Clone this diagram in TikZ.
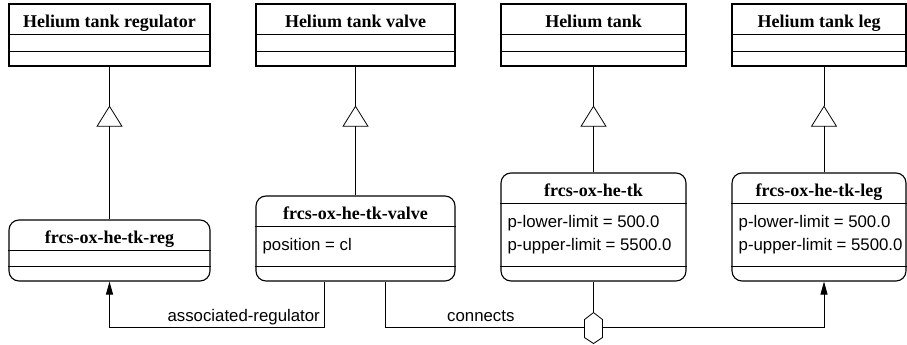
\documentclass[tikz,border=0pt]{standalone}
\usepackage{fontspec}
\setmainfont{Liberation Serif}
\setsansfont{Liberation Sans}
\usetikzlibrary{arrows.meta,positioning}

\tikzset{
  cls/.style={draw, line width=1.1pt, inner sep=0},
  inst/.style={cls, rounded corners=10pt},
  ttl/.style={anchor=base, inner sep=0, font=\fontsize{18}{20}\selectfont\bfseries},
  attr/.style={anchor=base west, inner sep=0, font=\sffamily\fontsize{16.8}{20}\selectfont},
  div/.style={line width=0.8pt},
  gen/.style={div, -{Triangle[open, length=21pt, width=26pt]}},
  assoc/.style={div, -{Triangle[length=13pt, width=7pt]}},
}

\begin{document}
\begin{tikzpicture}[x=1pt, y=-1pt]
\useasboundingbox (0,0) rectangle (907,345);

% classes
\node[cls, minimum width=201, minimum height=62] (htreg) at (109.5,35) {};
\node[ttl] (htreg-t) at ([yshift=-24]htreg.north) {Helium tank regulator};
\node[cls, minimum width=199, minimum height=62] (htvalve) at (355.5,35) {};
\node[ttl] (htvalve-t) at ([yshift=-24]htvalve.north) {Helium tank valve};
\node[cls, minimum width=185, minimum height=62] (httank) at (593.5,35) {};
\node[ttl] (httank-t) at ([yshift=-24]httank.north) {Helium tank};
\node[cls, minimum width=174, minimum height=62] (htleg) at (819,35) {};
\node[ttl] (htleg-t) at ([yshift=-24]htleg.north) {Helium tank leg};

% instances
\node[inst, minimum width=201, minimum height=61] (reg) at (109.5,250.5) {};
\node[ttl] (reg-t) at ([yshift=-24]reg.north) {frcs-ox-he-tk-reg};
\node[inst, minimum width=199, minimum height=85] (valve) at (355.5,238.5) {};
\node[ttl] (valve-t) at ([yshift=-24]valve.north) {frcs-ox-he-tk-valve};
\node[attr] (valve-a) at ([xshift=7,yshift=-55]valve.north west) {position = cl};
\node[inst, minimum width=185, minimum height=108] (tk) at (593.5,227) {};
\node[ttl] (tk-t) at ([yshift=-24]tk.north) {frcs-ox-he-tk};
\node[attr] (tk-a1) at ([xshift=7,yshift=-55]tk.north west) {p-lower-limit = 500.0};
\node[attr] (tk-a2) at ([xshift=7,yshift=-78]tk.north west) {p-upper-limit = 5500.0};
\node[inst, minimum width=174, minimum height=108] (leg) at (819,227) {};
\node[ttl] (leg-t) at ([yshift=-24]leg.north) {frcs-ox-he-tk-leg};
\node[attr] (leg-a1) at ([xshift=7,yshift=-55]leg.north west) {p-lower-limit = 500.0};
\node[attr] (leg-a2) at ([xshift=7,yshift=-78]leg.north west) {p-upper-limit = 5500.0};

% compartments
\foreach \n in {htreg,htvalve,httank,htleg,reg,valve,tk,leg} {
  \draw[div] ([yshift=-31]\n.north west) -- ([yshift=-31]\n.north east);
  \draw[div] ([yshift=15]\n.south west) -- ([yshift=15]\n.south east);
}

% generalisation
\coordinate (g1) at ([yshift=-39]htreg.south);
\coordinate (g2) at ([yshift=-39]htvalve.south);
\coordinate (g3) at ([yshift=-39]httank.south);
\coordinate (g4) at ([xshift=5,yshift=-39]htleg.south);
\draw[div] (htreg.south) -- (g1);
\draw[gen] (reg.north) -- (g1);
\draw[div] (htvalve.south) -- (g2);
\draw[gen] (valve.north) -- (g2);
\draw[div] (httank.south) -- (g3);
\draw[gen] (tk.north) -- (g3);
\draw[div] (g4 |- htleg.south) -- (g4);
\draw[gen] (g4 |- leg.north) -- (g4);

% links
\draw[assoc] ([xshift=69]valve.south west) -- ++(0,46) -| (reg.south);
\node[attr, anchor=base east] (reglbl) at (320,321) {associated-regulator};
\draw[assoc] ([xshift=130]valve.south west) -- ++(0,46) -| ([xshift=5]leg.south);
\node[attr] (connlbl) at (447,321) {connects};
\coordinate (agg) at ([yshift=-46]tk.south);
\draw[div, fill=white] (agg) +(0,-15) -- +(9,-8) -- +(9,10) -- +(0,16)
  -- +(-9,10) -- +(-9,-8) -- cycle;
\draw[div] (tk.south) -- ([yshift=15]agg);
\end{tikzpicture}
\end{document}
